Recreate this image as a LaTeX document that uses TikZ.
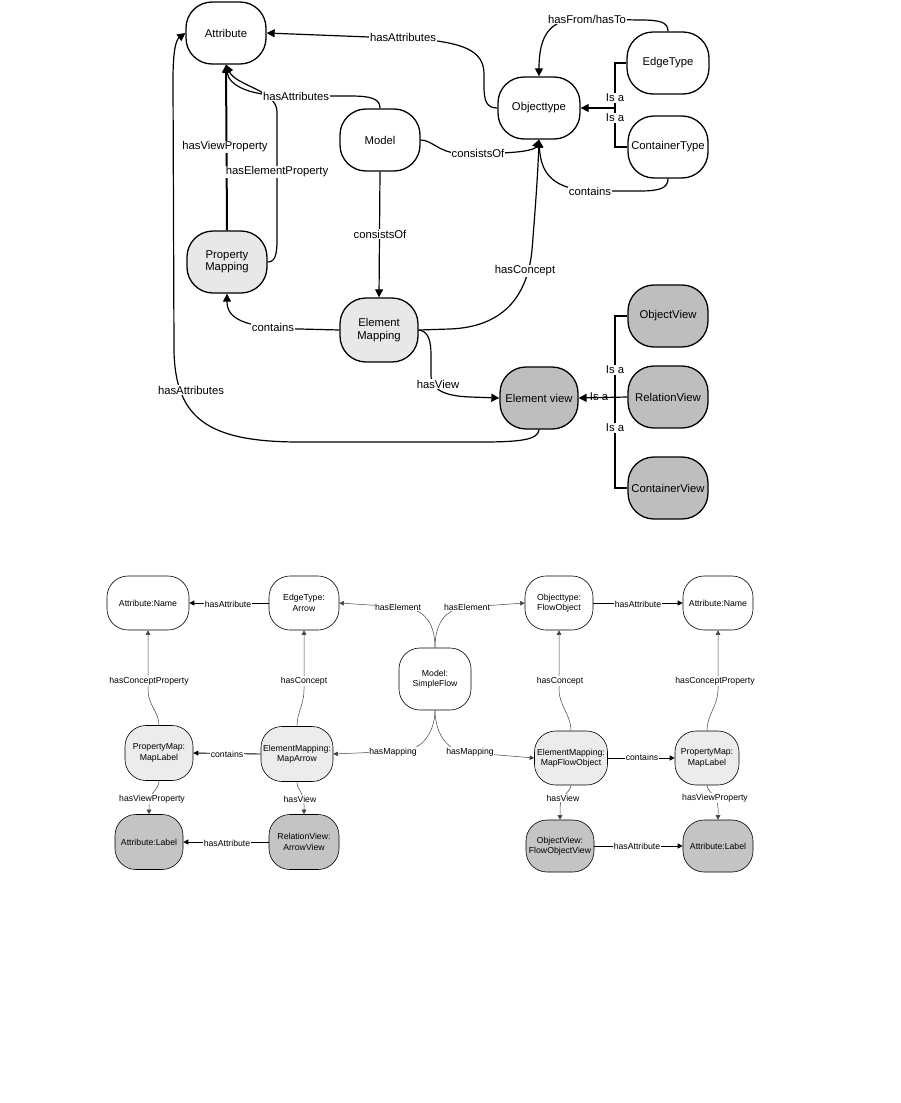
\documentclass[tikz,border=0pt]{standalone}
\usepackage{fontspec}
\setmainfont{Liberation Sans}
\usetikzlibrary{arrows.meta}
\definecolor{mapfill}{RGB}{232,232,232}
\definecolor{viewfill}{RGB}{190,190,190}
\definecolor{bmapfill}{RGB}{236,236,236}
\definecolor{bviewfill}{RGB}{196,196,196}
\begin{document}
\begin{tikzpicture}[x=1pt,y=-1pt,
  tbox/.style={draw=black, line width=1.3pt, rounded corners=26pt, minimum width=80pt, minimum height=62pt, inner sep=1pt, align=center, font=\fontsize{11.3}{12.5}\selectfont},
  tmap/.style={tbox, fill=mapfill},
  tview/.style={tbox, fill=viewfill},
  tedge/.style={draw=black, line width=1.2pt, -{Triangle[length=8pt,width=8pt]}},
  tline/.style={draw=black, line width=1.2pt},
  tisa/.style={draw=black, line width=2pt},
  tlab/.style={fill=white, inner sep=0.6pt, font=\fontsize{11.3}{12.5}\selectfont},
  tlabn/.style={inner sep=0.6pt, font=\fontsize{11.3}{12.5}\selectfont},
  bbox/.style={draw=black, line width=0.6pt, rounded corners=21pt, minimum width=70pt, minimum height=54pt, inner sep=1pt, align=center, font=\fontsize{8.7}{10.5}\selectfont},
  bmap/.style={bbox, fill=bmapfill},
  bview/.style={bbox, fill=bviewfill},
  bedge/.style={draw=black!75, line width=0.5pt, -{Triangle[length=4.5pt,width=4.5pt]}},
  bhedge/.style={draw=black, line width=0.9pt, -{Triangle[length=5pt,width=5pt]}},
  blab/.style={fill=white, inner sep=0.5pt, font=\fontsize{8.7}{10.5}\selectfont}
]
\useasboundingbox (0,0) rectangle (901,1103);

% ---------------- top diagram ----------------
\node[tbox] (attr) at (226,33) {Attribute};
\node[tbox] (model) at (380,140) {Model};
\node[tbox, minimum width=82pt] (objt) at (539,108) {Objecttype};
\node[tbox, minimum width=82pt] (edge) at (668,63) {EdgeType};
\node[tbox] (cont) at (668,147) {ContainerType};
\node[tmap] (pmap) at (227,262) {Property\\Mapping};
\node[tmap, minimum width=78pt, minimum height=64pt] (emap) at (379,330) {Element\\Mapping};
\node[tview, minimum width=78pt] (ev) at (539,398) {Element view};
\node[tview] (ov) at (668,316) {ObjectView};
\node[tview] (rv) at (668,397) {RelationView};
\node[tview] (cv) at (668,488) {ContainerView};

\coordinate (isa1) at (615,108);
\coordinate (isa2) at (615,397);

% hasAttributes Objecttype -> Attribute
\draw[tedge] (objt.west) .. controls (486,108) and (484,100) .. (484,86) -- (484,74) .. controls (484,50) and (462,43) .. (420,39) -- (attr.east);
% hasAttributes Model -> Attribute
\draw[tedge] (model.north) .. controls (380,99) and (372,96) .. (350,96) -- (290,96) .. controls (250,96) and (229,86) .. (attr.south);
% hasViewProperty
\draw[tisa, -{Triangle[length=8pt,width=8pt]}] (pmap.north) -- (attr.south);
% hasElementProperty
\draw[tedge] (pmap.east) .. controls (275,262) and (277,255) .. (277,240) -- (277,112) .. controls (277,90) and (236,86) .. (attr.south);
% consistsOf Model -> Objecttype
\draw[tedge] (model.east) .. controls (432,140) and (440,153) .. (458,153) -- (495,153) .. controls (518,153) and (535,150) .. (objt.south);
% consistsOf Model -> Element Mapping
\draw[tedge] (model.south) -- (emap.north);
% hasConcept
\draw[tedge] (emap.east) -- (450,329) .. controls (500,327) and (527,300) .. (532,250) .. controls (536,200) and (538,170) .. (objt.south);
% contains ContainerType -> Objecttype
\draw[tedge] (cont.south) .. controls (668,188) and (660,191) .. (640,191) -- (600,191) .. controls (560,191) and (541,180) .. (objt.south);
% hasFrom/hasTo
\draw[tedge] (edge.north) .. controls (668,22) and (660,20) .. (640,20) -- (580,19) .. controls (550,19) and (539,35) .. (objt.north);
% Is a (types)
\draw[tisa] (edge.west) -- (615,63) -- (isa1);
\draw[tisa] (cont.west) -- (615,147) -- (isa1);
\draw[tedge] (isa1) -- (objt.east);
% contains Element Mapping -> Property Mapping
\draw[tedge] (emap.west) -- (300,329) .. controls (242,328) and (227,318) .. (pmap.south);
% hasView
\draw[tedge] (emap.east) .. controls (428,331) and (431,340) .. (431,355) -- (431,375) .. controls (431,390) and (445,396) .. (470,397) -- (ev.west);
% hasAttributes Element view -> Attribute
\draw[tedge] (ev.south) .. controls (538,440) and (520,442) .. (480,442) -- (300,442) .. controls (210,442) and (175,420) .. (174,350) -- (173,80) .. controls (173,50) and (176,40) .. (attr.west);
% Is a (views)
\draw[tisa] (ov.west) -- (615,316) -- (isa2);
\draw[tisa] (cv.west) -- (615,488) -- (isa2);
\draw[tedge] (rv.west) -- (ev.east);

% top labels
\node[tlab] (l1) at (403,37) {hasAttributes};
\node[tlab] (l2) at (296,96) {hasAttributes};
\node[tlab] (l3) at (225,147) {hasViewProperty};
\node[tlab] (l4) at (277,172) {hasElementProperty};
\node[tlab] (l5) at (478,153) {consistsOf};
\node[tlab] (l6) at (380,234) {consistsOf};
\node[tlab] (l7) at (525,271) {hasConcept};
\node[tlab] (l8) at (590,191) {contains};
\node[tlab] (l9) at (587,19) {hasFrom/hasTo};
\node[tlab] (l10) at (615,98) {Is a};
\node[tlab] (l11) at (615,118) {Is a};
\node[tlab] (l12) at (273,327) {contains};
\node[tlab] (l13) at (438,384) {hasView};
\node[tlab] (l14) at (191,390) {hasAttributes};
\node[tlab] (l15) at (615,370) {Is a};
\node[tlabn] (l16) at (599,397) {Is a};
\node[tlab] (l17) at (615,428) {Is a};

% ---------------- bottom diagram ----------------
\node[bbox, minimum width=82pt] (an1) at (148,603) {Attribute:Name};
\node[bbox] (et) at (304,603) {EdgeType:\\Arrow};
\node[bbox, minimum width=72pt, minimum height=62pt] (ms) at (435,679) {Model:\\SimpleFlow};
\node[bbox, minimum width=68pt] (ot) at (559,603) {Objecttype:\\FlowObject};
\node[bbox] (an2) at (718,603) {Attribute:Name};
\node[bmap, minimum width=68pt, minimum height=55pt] (pm1) at (159,753) {PropertyMap:\\MapLabel};
\node[bmap, minimum width=72pt, minimum height=55pt] (ema) at (297,754) {ElementMapping:\\MapArrow};
\node[bmap, minimum width=73pt] (emf) at (571,758) {ElementMapping:\\MapFlowObject};
\node[bmap, minimum width=64pt] (pm2) at (707,758) {PropertyMap:\\MapLabel};
\node[bview, minimum width=68pt, minimum height=55pt] (al1) at (149,842) {Attribute:Label};
\node[bview, minimum height=55pt] (rva) at (304,842) {RelationView:\\ArrowView};
\node[bview, minimum width=68pt, minimum height=52pt] (ovf) at (560,846) {ObjectView:\\FlowObjectView};
\node[bview, minimum height=52pt] (al2) at (718,846) {Attribute:Label};

\draw[bhedge] (et.west) -- (an1.east);
\draw[bedge] (ms.north) .. controls (435,625) and (426,608) .. (400,607) -- (et.east);
\draw[bedge] (ms.north) .. controls (435,625) and (444,608) .. (468,607) -- (ot.west);
\draw[bhedge] (ot.east) -- (an2.west);
\draw[bedge] (pm1.north) .. controls (159,712) and (148,705) .. (148,690) -- (an1.south);
\draw[bedge] (ema.north) .. controls (297,712) and (304,705) .. (304,690) -- (et.south);
\draw[bedge] (emf.north) .. controls (571,715) and (559,705) .. (559,690) -- (ot.south);
\draw[bedge] (pm2.north) .. controls (707,715) and (718,705) .. (718,690) -- (an2.south);
\draw[bedge] (ms.south) .. controls (435,725) and (428,747) .. (405,751) -- (ema.east);
\draw[bedge] (ms.south) .. controls (435,725) and (441,747) .. (462,752) -- (emf.west);
\draw[bhedge] (ema.west) -- (pm1.east);
\draw[bhedge] (emf.east) -- (pm2.west);
\draw[bedge] (pm1.south) .. controls (159,790) and (149,792) .. (149,805) -- (al1.north);
\draw[bedge] (ema.south) .. controls (297,790) and (304,792) .. (304,805) -- (rva.north);
\draw[bedge] (emf.south) .. controls (571,792) and (560,795) .. (560,808) -- (ovf.north);
\draw[bedge] (pm2.south) .. controls (707,792) and (718,795) .. (718,808) -- (al2.north);
\draw[bhedge] (rva.west) -- (al1.east);
\draw[bhedge] (ovf.east) -- (al2.west);

\node[blab] (m1) at (228,604) {hasAttribute};
\node[blab] (m2) at (398,607) {hasElement};
\node[blab] (m3) at (467,607) {hasElement};
\node[blab] (m4) at (638,604) {hasAttribute};
\node[blab] (m5) at (149,681) {hasConceptProperty};
\node[blab] (m6) at (304,681) {hasConcept};
\node[blab] (m7) at (560,681) {hasConcept};
\node[blab] (m8) at (715,681) {hasConceptProperty};
\node[blab] (m9) at (393,752) {hasMapping};
\node[blab] (m10) at (470,752) {hasMapping};
\node[blab] (m11) at (227,754) {contains};
\node[blab] (m12) at (642,757) {contains};
\node[blab] (m13) at (152,799) {hasViewProperty};
\node[blab] (m14) at (300,799) {hasView};
\node[blab] (m15) at (563,798) {hasView};
\node[blab] (m16) at (715,798) {hasViewProperty};
\node[blab] (m17) at (227,843) {hasAttribute};
\node[blab] (m18) at (637,846) {hasAttribute};
\end{tikzpicture}
\end{document}
